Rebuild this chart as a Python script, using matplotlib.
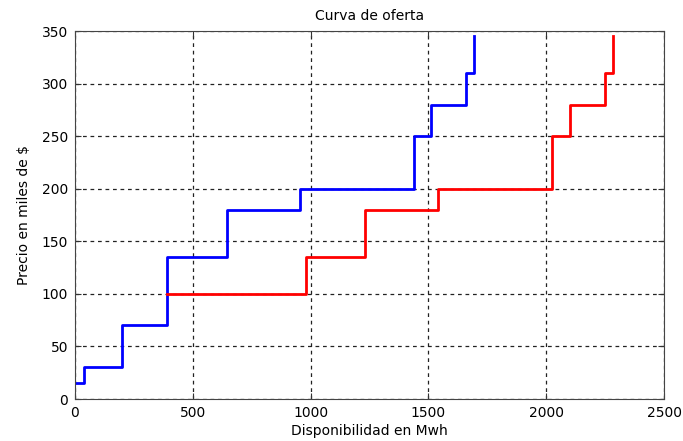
import matplotlib
matplotlib.use("Agg")
import matplotlib.pyplot as plt

#----- Data -----
blue_x = [0, 40, 200, 390, 645, 955, 1440, 1510, 1660, 1695]
blue_y = [15, 30, 70, 135, 180, 200, 250, 280, 310, 345]

red_x = [390, 980, 1230, 1540, 2025, 2100, 2250, 2285]
red_y = [100, 135, 180, 200, 250, 280, 310, 345]

x_ticks = [0, 500, 1000, 1500, 2000, 2500]
y_ticks = [0, 50, 100, 150, 200, 250, 300, 350]

#----- Plot -----
plt.rcParams.update({ "font.family": "DejaVu Sans", "font.size": 10 })

fig = plt.figure( figsize=(6.83, 4.41), dpi=100 )
ax = fig.add_axes( [0.1098, 0.0952, 0.8624, 0.8345] )

ax.step( blue_x, blue_y, where="post", color="#0000ff", lw=2 )
ax.step( red_x, red_y, where="post", color="#ff0000", lw=2 )

ax.set_xlim( 0, 2500 )
ax.set_ylim( 0, 350 )
ax.set_xticks( x_ticks )
ax.set_yticks( y_ticks )
ax.grid( True, color="#222222", linestyle=(0, (3, 3)), linewidth=0.9 )
ax.tick_params( direction="in", top=True, right=True, length=4, color="#333333", pad=5 )
for sp in ax.spines.values():
	sp.set_color( "#444444" )

ax.set_title( "Curva de oferta", fontsize=10, pad=8 )
ax.set_xlabel( "Disponibilidad en Mwh", labelpad=3 )
ax.set_ylabel( "Precio en miles de \\$", labelpad=8 )

plt.savefig( "out.png", dpi=100 )
